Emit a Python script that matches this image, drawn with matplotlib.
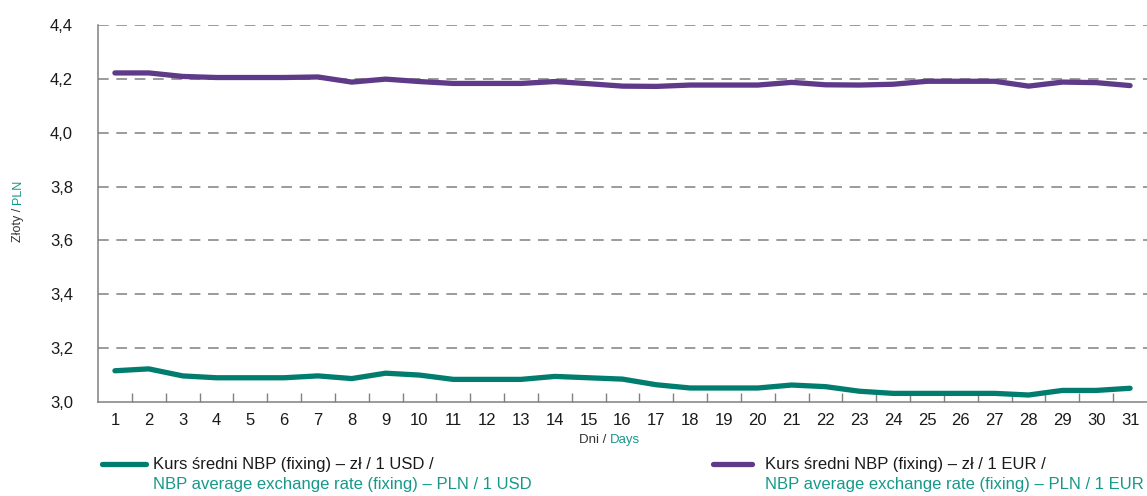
import matplotlib
matplotlib.use("Agg")
import matplotlib.pyplot as plt
from matplotlib.lines import Line2D
from matplotlib.ticker import FixedLocator, FuncFormatter

plt.rcParams['font.family'] = ['Liberation Sans Narrow', 'Liberation Sans', 'DejaVu Sans']

days = list(range(1, 32))
eur = [4.222, 4.222, 4.209, 4.205, 4.205, 4.205, 4.207, 4.188, 4.199, 4.190,
       4.183, 4.183, 4.183, 4.190, 4.182, 4.173, 4.172, 4.177, 4.177, 4.177,
       4.187, 4.178, 4.177, 4.180, 4.191, 4.191, 4.191, 4.173, 4.188, 4.186,
       4.175]
usd = [3.116, 3.123, 3.097, 3.090, 3.090, 3.090, 3.097, 3.087, 3.107, 3.100,
       3.084, 3.084, 3.084, 3.095, 3.090, 3.085, 3.064, 3.052, 3.052, 3.052,
       3.063, 3.057, 3.040, 3.032, 3.032, 3.032, 3.032, 3.026, 3.043, 3.043,
       3.051]
yticks = [3.0, 3.2, 3.4, 3.6, 3.8, 4.0, 4.2, 4.4]

teal = '#007d6e'
teal_txt = '#16998a'
purple = '#5e3a88'
grey = '#808080'

fig = plt.figure(figsize=(11.47, 4.96), dpi=100)
ax = fig.add_axes([98 / 1147, 1 - 402 / 496, 1 - 98 / 1147, (402 - 25) / 496])

ax.plot(days, usd, color=teal, lw=3.8, solid_capstyle='round', solid_joinstyle='round', zorder=3)
ax.plot(days, eur, color=purple, lw=3.8, solid_capstyle='round', solid_joinstyle='round', zorder=3)

ax.set_xlim(0.5, 31.5)
ax.set_ylim(3.0, 4.4)

# dashed grid lines
for v in yticks[1:]:
    ax.axhline(v, color=grey, lw=1.1, dashes=(7, 5), zorder=1)

for s in ['top', 'right']:
    ax.spines[s].set_visible(False)
for s in ['left', 'bottom']:
    ax.spines[s].set_color(grey)
    ax.spines[s].set_linewidth(1.1)

ax.set_yticks(yticks)
ax.yaxis.set_major_formatter(FuncFormatter(lambda v, p: f"{v:.1f}".replace('.', ',')))
ax.tick_params(axis='y', length=0, pad=18, labelsize=12, labelcolor='#1a1a1a')

ax.set_xticks(days)
ax.xaxis.set_minor_locator(FixedLocator([d + 0.5 for d in days[:-1]]))
ax.tick_params(axis='x', which='major', length=0, pad=8, labelsize=12, labelcolor='#1a1a1a')
ax.tick_params(axis='x', which='minor', direction='in', length=6.5, width=1.0, color=grey)

# axis titles
fig.text(18 / 1147, 1 - 204 / 496, 'Złoty / ', rotation=90, ha='center', va='top',
         fontsize=9, color='#333333')
fig.text(18 / 1147, 1 - 204 / 496, 'PLN', rotation=90, ha='center', va='bottom',
         fontsize=9, color=teal_txt)
fig.text(610 / 1147, 1 - 440 / 496, 'Dni / ', ha='right', va='center', fontsize=9.5, color='#333333')
fig.text(610 / 1147, 1 - 440 / 496, 'Days', ha='left', va='center', fontsize=9.5, color=teal_txt)

# legend
fig.add_artist(Line2D([102 / 1147, 146 / 1147], [1 - 464 / 496] * 2, color=teal, lw=3.8,
                      solid_capstyle='round'))
fig.text(153 / 1147, 1 - 464 / 496, 'Kurs średni NBP (fixing) – zł / 1 USD /',
         ha='left', va='center', fontsize=12, color='#1a1a1a')
fig.text(153 / 1147, 1 - 485 / 496, 'NBP average exchange rate (fixing) – PLN / 1 USD',
         ha='left', va='center', fontsize=12, color=teal_txt)
fig.add_artist(Line2D([713 / 1147, 752 / 1147], [1 - 464 / 496] * 2, color=purple, lw=3.8,
                      solid_capstyle='round'))
fig.text(765 / 1147, 1 - 464 / 496, 'Kurs średni NBP (fixing) – zł / 1 EUR /',
         ha='left', va='center', fontsize=12, color='#1a1a1a')
fig.text(765 / 1147, 1 - 485 / 496, 'NBP average exchange rate (fixing) – PLN / 1 EUR',
         ha='left', va='center', fontsize=12, color=teal_txt)

fig.savefig('out.png', dpi=100)
